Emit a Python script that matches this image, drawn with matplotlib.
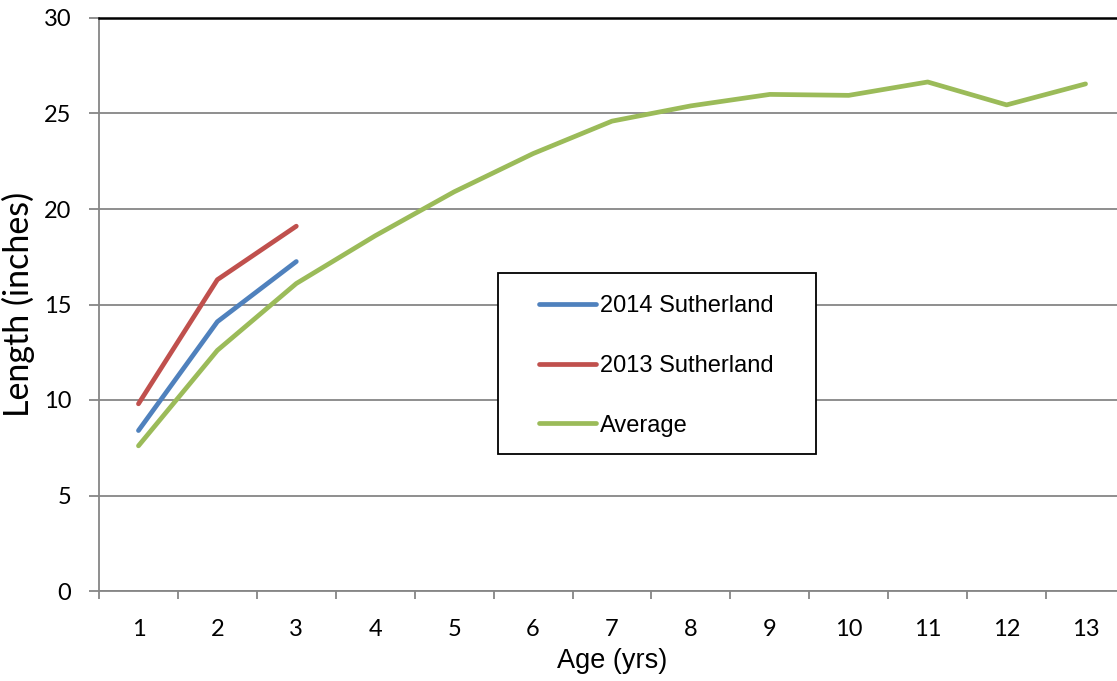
import matplotlib.pyplot as plt
from matplotlib.ticker import FixedLocator
from matplotlib.patches import Rectangle

# Edad (años) y longitudes (pulgadas)
ages = [1, 2, 3, 4, 5, 6, 7, 8, 9, 10, 11, 12, 13]
avg_length = [7.6, 12.6, 16.1, 18.6, 20.9, 22.9, 24.6, 25.4, 26.0, 25.95, 26.65, 25.45, 26.55]

ages_2014 = [1, 2, 3]
length_2014 = [8.4, 14.1, 17.25]

ages_2013 = [1, 2, 3]
length_2013 = [9.8, 16.3, 19.1]

y_ticks = [0, 5, 10, 15, 20, 25, 30]

W, H = 1117, 681
fig = plt.figure(figsize=(W / 100, H / 100), dpi=100)
# el área del gráfico sobresale un poco por la derecha, como en la imagen original
ax = fig.add_axes([99 / W, 1 - 591 / H, (1125 - 99) / W, (591 - 18) / H])

ax.plot(ages_2014, length_2014, color="#4F81BD", lw=3.4, label="2014 Sutherland",
        solid_capstyle="round", solid_joinstyle="round", zorder=3)
ax.plot(ages_2013, length_2013, color="#C0504D", lw=3.4, label="2013 Sutherland",
        solid_capstyle="round", solid_joinstyle="round", zorder=3)
ax.plot(ages, avg_length, color="#9BBB59", lw=3.4, label="Average",
        solid_capstyle="round", solid_joinstyle="round", zorder=3)

ax.set_xlim(0.5, 13.5)
ax.set_ylim(0, 30)

ax.set_yticks(y_ticks)
ax.set_xticks(ages)
ax.xaxis.set_minor_locator(FixedLocator([a - 0.5 for a in ages] + [13.5]))
ax.tick_params(axis="x", which="major", length=0, pad=20, labelsize=17)
ax.tick_params(axis="x", which="minor", length=6, width=1.3, color="#868686")
ax.tick_params(axis="y", length=7, width=1.3, color="#868686", pad=13, labelsize=17)
for lab in ax.get_xticklabels() + ax.get_yticklabels():
    lab.set_fontfamily("Lato")

ax.yaxis.grid(True, color="#868686", lw=1.3)
ax.set_axisbelow(True)

for side in ["left", "bottom"]:
    ax.spines[side].set_color("#868686")
    ax.spines[side].set_linewidth(1.3)
ax.spines["right"].set_visible(False)
ax.spines["top"].set_color("black")
ax.spines["top"].set_linewidth(1.8)

ax.set_xlabel("Age (yrs)", fontsize=19.5, fontfamily="Liberation Sans", labelpad=6)
ax.set_ylabel("Length (inches)", fontsize=24.5, fontfamily="Lato", labelpad=6)

# marco de la leyenda dibujado aparte (más margen horizontal que vertical)
box = Rectangle((498 / W, 1 - 454 / H), (816 - 498) / W, (454 - 273) / H,
                transform=fig.transFigure, facecolor="white", edgecolor="black",
                lw=1.3, zorder=4, clip_on=False)
ax.add_patch(box)

leg = ax.legend(loc="upper left", bbox_to_anchor=(539 / W, 1 - 295 / H),
                bbox_transform=fig.transFigure, prop={"family": "Liberation Sans", "size": 17},
                frameon=False, handlelength=2.4, handletextpad=0.2,
                labelspacing=1.6, borderpad=0, borderaxespad=0)
leg.set_zorder(5)

fig.savefig("out.png", dpi=100)
